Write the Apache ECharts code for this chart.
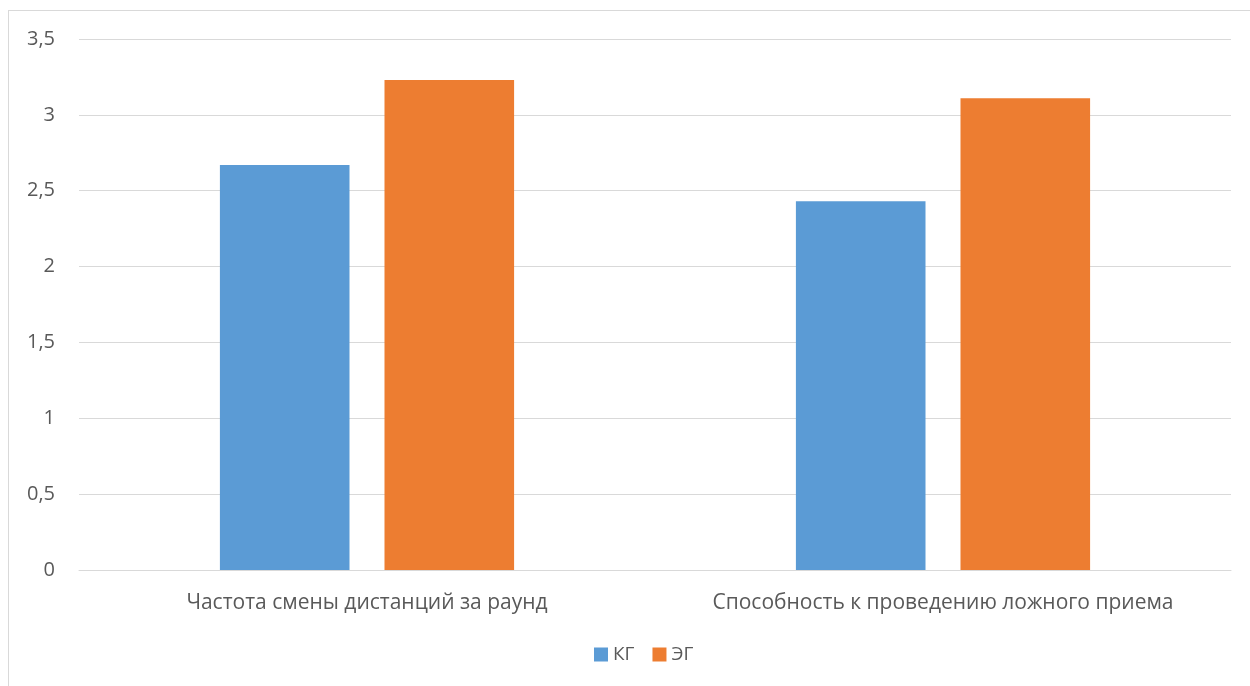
<!DOCTYPE html>
<html>
<head>
<meta charset="utf-8">
<script src="https://cdn.jsdelivr.net/npm/echarts@6/dist/echarts.min.js"></script>
<style>
  html, body { margin: 0; padding: 0; background: #fff; }
  #frame { position: absolute; left: 8px; top: 10px; width: 1260px; height: 700px; border: 1px solid #d9d9d9; box-sizing: border-box; }
  #chart { position: absolute; left: 0; top: 0; width: 1250px; height: 686px; }
</style>
</head>
<body>
<div id="frame"></div>
<div id="chart"></div>
<script>
// Categories and series values
const categories = ['Частота смены дистанций за раунд', 'Способность к проведению ложного приема'];
const seriesNames = ['КГ', 'ЭГ'];
const kgValues = [2.67, 2.43];
const egValues = [3.23, 3.11];
const seriesColors = ['#5b9bd5', '#ed7d31'];

const chart = echarts.init(document.getElementById('chart'), null, { renderer: 'canvas' });
const fontFamily = '"Open Sans", "Noto Sans", sans-serif';

chart.setOption({
  animation: false,
  textStyle: { fontFamily: fontFamily },
  grid: { left: 79, right: 19, top: 39, bottom: 116, containLabel: false },
  legend: {
    data: seriesNames,
    top: 640,
    left: 589,
    itemWidth: 14,
    itemHeight: 14,
    itemGap: 18,
    icon: 'rect',
    textStyle: { color: '#595959', fontSize: 19, fontFamily: fontFamily }
  },
  xAxis: {
    type: 'category',
    data: categories,
    axisLine: { show: true, lineStyle: { color: '#d9d9d9', width: 1 } },
    axisTick: { show: false },
    axisLabel: { interval: 0, hideOverlap: false, color: '#595959', fontSize: 21, margin: 23, fontFamily: fontFamily }
  },
  yAxis: {
    type: 'value',
    min: 0,
    max: 3.5,
    interval: 0.5,
    axisLine: { show: false },
    axisTick: { show: false },
    splitLine: { lineStyle: { color: '#d9d9d9', width: 1 } },
    axisLabel: {
      color: '#595959',
      fontSize: 20,
      margin: 24,
      fontFamily: fontFamily,
      formatter: v => String(v).replace('.', ',')
    }
  },
  series: [
    {
      name: seriesNames[0],
      type: 'bar',
      data: kgValues,
      barWidth: '22.5%',
      barGap: '27%',
      itemStyle: { color: seriesColors[0] }
    },
    {
      name: seriesNames[1],
      type: 'bar',
      data: egValues,
      barWidth: '22.5%',
      barGap: '27%',
      itemStyle: { color: seriesColors[1] }
    }
  ]
});
</script>
</body>
</html>
